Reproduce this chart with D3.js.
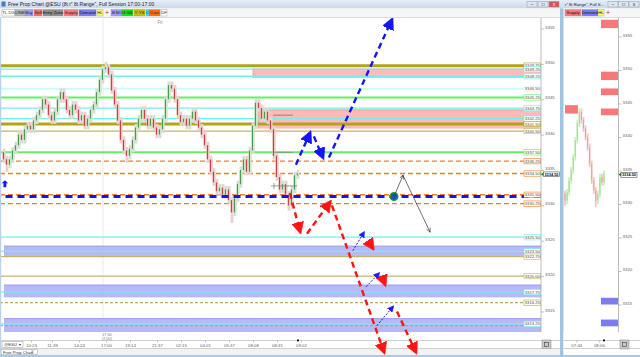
<!DOCTYPE html>
<html>
<head>
<meta charset="utf-8">
<script src="https://cdnjs.cloudflare.com/ajax/libs/d3/7.8.5/d3.min.js"></script>
<style>
  body { margin: 0; background: #fff; overflow: hidden; }
  svg { display: block; font-family: "Liberation Sans", Arial, sans-serif; }
</style>
</head>
<body>
<div id="chart"></div>
<script>
// ---- data ----
// 8 tick range bars: [open, high, low, close]
const bars = [
  [3337.5,3338,3336,3336.5],[3336.5,3337,3334.75,3335.75],[3335.75,3337,3335.25,3336.5],[3336.5,3338.25,3336,3337.75],
  [3337.75,3339,3337.25,3338.5],[3338.5,3340.5,3338,3340],[3340,3340.5,3338.75,3339.25],[3339.25,3341.25,3338.75,3340.75],
  [3340.75,3341.75,3340.25,3341.25],[3341.25,3341.75,3340.25,3340.75],[3340.75,3342.5,3340.25,3342],[3342,3343.25,3341.5,3342.75],
  [3342.75,3344,3342.25,3343.5],[3343.5,3345.5,3343,3345],[3345,3345.5,3343.75,3344.25],[3344.25,3344.75,3342.25,3342.75],
  [3342.75,3343.25,3341.5,3342],[3342,3343.75,3341.5,3343.25],[3343.25,3345.5,3342.75,3345],[3345,3346.5,3344.5,3346],
  [3346,3346.5,3344.5,3345],[3345,3345.5,3343,3343.5],[3343.5,3344,3342.25,3342.75],[3342.75,3344.75,3342.25,3344.25],
  [3344.25,3344.75,3343,3343.5],[3343.5,3344,3341.5,3342],[3342,3343.25,3341.5,3342.75],[3342.75,3343.25,3340.75,3341.25],
  [3341.25,3342.75,3340.75,3342.25],[3342.25,3344,3341.75,3343.5],[3343.5,3344.75,3343,3344.25],[3344.25,3346.5,3343.75,3346],
  [3346,3348.25,3345.5,3347.75],[3347.75,3349.75,3347.25,3349.25],[3349.25,3350.25,3348.75,3349.5],[3349.5,3350,3348,3348.5],
  [3348.5,3349,3345.75,3346.25],[3346.25,3346.75,3343.75,3344.25],[3344.25,3344.75,3341.5,3342],[3342,3342.5,3338.75,3339.25],
  [3339.25,3339.75,3337.25,3337.75],[3337.75,3338.25,3336,3337],[3337,3338.5,3336.5,3338],[3338,3339.75,3337.5,3339.25],
  [3339.25,3341.5,3338.75,3341],[3341,3342.75,3340.5,3342.25],[3342.25,3344,3341.75,3343.5],[3343.5,3344,3341.75,3342.25],
  [3342.25,3342.75,3340.75,3341.25],[3341.25,3342.75,3340.75,3342.25],[3342.25,3342.75,3340.5,3341],[3341,3341.5,3339.5,3340],
  [3340,3341.25,3339.5,3340.75],[3340.75,3342.75,3340.25,3342.25],[3342.25,3345.5,3341.75,3345],[3345,3347.5,3344.5,3347],
  [3347,3347.5,3346,3346.5],[3346.5,3347,3344.5,3345],[3345,3345.5,3342.25,3342.75],[3342.75,3343.25,3341.25,3341.75],
  [3341.75,3342.75,3341.25,3342.25],[3342.25,3342.75,3340.75,3341.25],[3341.25,3342.75,3340.75,3342.25],[3342.25,3343.75,3341.75,3343.25],
  [3343.25,3343.75,3341.5,3342],[3342,3342.5,3340.5,3341],[3341,3341.5,3339.5,3340],[3340,3340.5,3338,3338.5],
  [3338.5,3339,3336,3336.5],[3336.5,3337,3334.25,3334.75],[3334.75,3335.25,3332.75,3333.25],[3333.25,3333.75,3331.5,3332],
  [3332,3333,3331.5,3332.5],[3332.5,3333,3331,3331.5],[3331.5,3332.75,3331,3332.25],[3332.25,3332.75,3330.25,3330.75],
  [3330.75,3331.25,3327.5,3329],[3329,3331.5,3328.5,3331],[3331,3333.5,3330.5,3333],[3333,3335.5,3332.5,3335],
  [3335,3337,3334.5,3336.5],[3336.5,3337,3334.25,3334.75],[3334.75,3338.25,3334.25,3337.75],[3337.75,3341.75,3337.25,3341.25],
  [3341.25,3345,3340.75,3344.5],[3344.5,3345,3343.25,3343.75],[3343.75,3344.25,3341.75,3342.25],[3342.25,3343.75,3341.75,3343.25],
  [3343.25,3343.75,3341.5,3342],[3342,3342.5,3340.25,3340.75],[3340.75,3341.25,3336.5,3337],[3337,3337.5,3333.5,3334],
  [3334,3334.5,3331.75,3332.25],[3332.25,3333.5,3331.75,3333],[3333,3333.5,3331,3331.5],[3331.5,3332,3329.25,3330],
  [3330,3332.75,3329.5,3332.25],[3332.25,3334.75,3331.75,3334.25],[3334.25,3335,3333.75,3334.5]
];
const lastPrice = 3334.50;

const timeIdx = [9, 16, 25, 34, 42, 51, 59, 67, 75, 83, 91, 99];
const timeLabels = ["10:23","11:39","14:24","17:00","19:14","21:37","02:15","04:01","05:37","08:08","08:31","09:02"];
const sessionIdx = 33;

const priceTicks = [3355, 3350, 3345, 3340, 3335, 3330, 3325, 3320, 3315];

// horizontal levels drawn on the chart
const levelPrice  = [3349.75,3349.25,3348.25,3346.50,3345.25,3343.75,3342.25,3341.50,3340.50,3337.50,3336.25,3334.50,3331.50,3330.25,3325.50,3323.50,3322.75,3320.00,3317.75,3316.25,3313.25,3313.00];
const levelKind   = ["olive","cyan","cyan","paleCyan","green","cyan","cyan","olive","khaki","green","orange","orange","orange","orange","cyan","cyan","khaki","khaki","cyan","khakiDash","cyan","khakiDash"];
const levelTagged = [true,true,true,true,true,true,true,true,true,true,true,true,true,true,true,true,true,true,true,true,true,false];

// supply / demand zones (bar index where each begins)
const zoneTop    = [3349.25, 3343.5, 3324.25, 3318.75, 3314.0];
const zoneBottom = [3348.0, 3340.85, 3322.75, 3317.0, 3311.75];
const zoneStart  = [83, 84.7, 0, 0, 0];
const zoneKind   = ["supply", "supply", "demand", "demand", "demand"];

const entryPrice = 3331.25;

// hand drawn arrows: [barFrom, priceFrom, barTo, priceTo]
const blueArrows  = [[97.3,3335.75,102,3340.25],[103.3,3339.75,106.3,3336.75],[108.3,3336.75,129.3,3356.25]];
const redArrows   = [[95.3,3331.75,98.7,3326.25],[101,3326.0,108.7,3330.5],[109.3,3330.0,126.7,3309.25],
                     [121.3,3325.0,123,3323.9],[126,3319.9,127,3318.8],[131,3315.0,137.3,3309.25]];
const dotArrows   = [[116.3,3323.6,120,3326.2],[120.7,3318.5,125,3320.4],[124.3,3313.0,129.7,3315.7]];
const blackArrows = [[130,3331.25,133,3334.25],[133,3334.25,142,3326.25]];
const entryDot    = [130, 3331.25];

// little grey markers near the last bars
const markPrice = [3342.75, 3337.5, 3332.75];
const markFrom  = [89.7, 89.7, 91];
const markTo    = [96.3, 96.3, 97.7];

// second (small) chart on the right
const miniBars = [
  [3331.5,3332,3329.75,3330.5],[3330.5,3332.25,3330,3331.75],[3331.75,3334,3331.25,3333.5],[3333.5,3335.5,3333,3335],
  [3335,3337.5,3334.5,3337],[3337,3340,3336.5,3339.5],[3339.5,3342.5,3339,3342],[3342,3344.25,3341.5,3343.75],
  [3343.75,3344.25,3342,3342.5],[3342.5,3343,3340.75,3341.25],[3341.25,3341.75,3339.5,3340],[3340,3340.5,3338,3338.5],
  [3338.5,3339,3335.5,3336],[3336,3336.5,3333,3333.5],[3333.5,3334,3331.5,3332],[3332,3332.5,3329.5,3330.5],
  [3330.5,3332,3330,3331.5],[3331.5,3334.5,3331,3334],[3334,3334.5,3332.75,3333.25],[3333.25,3335,3332.75,3334.5]
];
const miniZoneTop    = [3357.5, 3349.75, 3347.25, 3344.25, 3344.75, 3316.0, 3312.75];
const miniZoneBottom = [3356.25, 3348.5, 3346.25, 3343.25, 3343.5, 3315.0, 3311.75];
const miniZoneFrom   = [17.5, 17.5, 17.5, 17.5, 0, 17.5, 17.5];
const miniZoneTo     = [26, 26, 26, 26, 6.3, 26, 26];
const miniZoneKind   = ["supply","supply","supply","supply","supply","demand","demand"];
const miniTimeIdx    = [5.5, 16.5];
const miniTimeLabels = ["07:44", "08:06"];

// ---- styles ----
const levelStyle = {
  olive:     { color: "#b3a21a", w: 3,   dash: null },
  cyan:      { color: "#6ff0f0", w: 1.3, dash: null },
  paleCyan:  { color: "#cdfbfb", w: 2,   dash: null },
  green:     { color: "#62f062", w: 2,   dash: null },
  khaki:     { color: "#c3b567", w: 1.3, dash: null },
  khakiDash: { color: "#b9aa5a", w: 1.2, dash: "3,2" },
  orange:    { color: "#ff7a2a", w: 1.4, dash: "5,3" }
};
const zoneStyle = {
  supply: { fill: "#ffb4b4", edge: "#f08a8a" },
  demand: { fill: "#aeb1f4", edge: "#8c90ee" }
};
const toolbar = [
  ["TL.DG", 2, 13, "#ffffff", "#333"], ["LINE", 15, 10, "#b4b4b4", "#222"], ["Buy", 25, 8, "#9a9af8", "#222"],
  ["Sell", 34, 8, "#f86a6a", "#222"], ["Entry Zone", 43, 20, "#8e8e8e", "#111"], ["Supply", 64, 14, "#f87a7a", "#222"],
  ["Demand", 79, 17, "#7a7af2", "#111"], ["HL", 97, 6, "#ffff6a", "#222"], ["B", 111, 5, "#9a9af8", "#222"],
  ["BO", 116, 6, "#9a9af8", "#222"], ["G", 122, 4, "#10dd10", "#222"], ["GS", 126, 7, "#10dd10", "#222"],
  ["Y", 134, 4, "#c8c000", "#222"], ["YS", 138, 7, "#c8c000", "#222"], ["C", 146, 3, "#20f0f0", "#222"],
  ["Cust", 149, 11, "#ff6a10", "#222"], ["DF", 161, 6, "#ffffff", "#333"]
];

// ---- svg ----
const W = 640, H = 357;
const svg = d3.select("#chart").append("svg").attr("width", W).attr("height", H);

const defs = svg.append("defs");
function marker(id, color, size, open) {
  const m = defs.append("marker")
    .attr("id", id).attr("viewBox", "0 0 10 10")
    .attr("refX", 8).attr("refY", 5)
    .attr("markerUnits", "userSpaceOnUse")
    .attr("markerWidth", size).attr("markerHeight", size)
    .attr("orient", "auto");
  m.append("path")
    .attr("d", open ? "M0,1L9,5L0,9" : "M0,0L10,5L0,10z")
    .attr("fill", open ? "none" : color)
    .attr("stroke", color).attr("stroke-width", open ? 1.2 : 0.5);
}
marker("mBlue", "#1414ff", 12, false);
marker("mRed", "#ff1414", 12, false);
marker("mDot", "#1a1aff", 6.5, false);
marker("mBlack", "#333", 5, true);
defs.append("clipPath").attr("id", "plotClip")
  .append("rect").attr("x", 0).attr("y", 18).attr("width", 541).attr("height", 314);
defs.append("clipPath").attr("id", "arrowClip")
  .append("rect").attr("x", 0).attr("y", 18).attr("width", 541).attr("height", 339);
defs.append("clipPath").attr("id", "miniClip")
  .append("rect").attr("x", 564).attr("y", 18).attr("width", 54).attr("height", 314);
const grad = defs.append("linearGradient").attr("id", "titleGrad").attr("x1", 0).attr("x2", 0).attr("y1", 0).attr("y2", 1);
grad.append("stop").attr("offset", 0).attr("stop-color", "#e6eef8");
grad.append("stop").attr("offset", 1).attr("stop-color", "#c8d8ec");

// Scales
const x = d3.scaleLinear().domain([0, 179]).range([4, 541]);
const y = d3.scaleLinear().domain([3355, 3315]).range([28.5, 311.5]);
const xm = d3.scaleLinear().domain([0, 26]).range([565, 618.4]);
const ym = d3.scaleLinear().domain([3350, 3330]).range([70, 204]);

// window chrome
svg.append("rect").attr("x", 0).attr("y", 0).attr("width", W).attr("height", 8.5).attr("fill", "url(#titleGrad)");
svg.append("rect").attr("x", 1.5).attr("y", 1.5).attr("width", 4).attr("height", 5).attr("fill", "#4a78c0");
svg.append("text").attr("x", 8).attr("y", 6.3).style("font-size", "5px").style("fill", "#222")
  .text("Free Prop Chart @ESU (8t r\" 8t Range\", Full Session 17:00-17:00");
svg.append("text").attr("x", 565).attr("y", 6.2).style("font-size", "4.2px").style("fill", "#222")
  .text("r\" 8t Range\", Full S...");
[[527, "#dfe6ef", "‒"], [538, "#dfe6ef", "□"], [549, "#d9534f", "x"],
 [608, "#dfe6ef", "‒"], [618.5, "#dfe6ef", "□"], [629, "#dfe6ef", "x"]].forEach(b => {
  svg.append("rect").attr("x", b[0]).attr("y", 1.5).attr("width", 10).attr("height", 5.5)
    .attr("fill", b[1]).attr("stroke", "#8a9bb3").attr("stroke-width", 0.5);
  svg.append("text").attr("x", b[0] + 5).attr("y", 6).attr("text-anchor", "middle")
    .style("font-size", "5px").style("fill", b[1] === "#d9534f" ? "#fff" : "#333").text(b[2]);
});

// toolbar
svg.append("rect").attr("x", 0).attr("y", 8.5).attr("width", 560).attr("height", 9).attr("fill", "#f6f6f6");
svg.append("rect").attr("x", 563).attr("y", 8.5).attr("width", 77).attr("height", 9).attr("fill", "#f6f6f6");
svg.append("line").attr("x1", 0).attr("x2", W).attr("y1", 17.5).attr("y2", 17.5).attr("stroke", "#c8c8c8").attr("stroke-width", 0.6);
const tb = svg.append("g");
toolbar.forEach(t => {
  tb.append("rect").attr("x", t[1]).attr("y", 9.5).attr("width", t[2]).attr("height", 6.5)
    .attr("fill", t[3]).attr("stroke", "#9a9a9a").attr("stroke-width", 0.4);
  tb.append("text").attr("x", t[1] + t[2] / 2).attr("y", 14.4).attr("text-anchor", "middle")
    .style("font-size", "4.3px").style("fill", t[4]).text(t[0]);
});
tb.append("text").attr("x", 107).attr("y", 15).attr("text-anchor", "middle")
  .style("font-size", "7px").style("fill", "#e02020").text("+");
[["Supply", 565, 16, "#f87a7a"], ["Demand", 582, 16, "#7a7af2"], ["HL", 598, 6, "#ffff6a"]].forEach(t => {
  tb.append("rect").attr("x", t[1]).attr("y", 9.5).attr("width", t[2]).attr("height", 6.5)
    .attr("fill", t[3]).attr("stroke", "#9a9a9a").attr("stroke-width", 0.4);
  tb.append("text").attr("x", t[1] + t[2] / 2).attr("y", 14.4).attr("text-anchor", "middle")
    .style("font-size", "4.3px").style("fill", "#111").text(t[0]);
});
tb.append("text").attr("x", 608).attr("y", 15).attr("text-anchor", "middle")
  .style("font-size", "7px").style("fill", "#e02020").text("+");

// ---- main plot ----
const plot = svg.append("g").attr("clip-path", "url(#plotClip)");

// session separator
plot.append("line")
  .attr("x1", x(sessionIdx)).attr("x2", x(sessionIdx)).attr("y1", 18).attr("y2", 340)
  .attr("stroke", "#e4e4e4").attr("stroke-width", 0.8);
svg.append("text").attr("x", 160).attr("y", 24).attr("text-anchor", "middle")
  .style("font-size", "4.5px").style("fill", "#888").text("Fri");

// zones
zoneTop.forEach((t, i) => {
  const s = zoneStyle[zoneKind[i]];
  plot.append("rect")
    .attr("x", x(zoneStart[i])).attr("y", y(t))
    .attr("width", 541 - x(zoneStart[i])).attr("height", y(zoneBottom[i]) - y(t))
    .attr("fill", s.fill).attr("opacity", 0.9);
  plot.append("line")
    .attr("x1", x(zoneStart[i])).attr("x2", 541).attr("y1", y(t)).attr("y2", y(t))
    .attr("stroke", s.edge).attr("stroke-width", 0.8);
  if (zoneStart[i] > 0) {
    plot.append("line")
      .attr("x1", x(zoneStart[i])).attr("x2", x(zoneStart[i]))
      .attr("y1", y(t)).attr("y2", y(zoneBottom[i]))
      .attr("stroke", s.edge).attr("stroke-width", 0.8);
  }
});

// levels
levelPrice.forEach((p, i) => {
  const s = levelStyle[levelKind[i]];
  plot.append("line")
    .attr("x1", 0).attr("x2", 541).attr("y1", y(p)).attr("y2", y(p))
    .attr("stroke", s.color).attr("stroke-width", s.w)
    .attr("stroke-dasharray", s.dash);
});

// bars
const barG = plot.append("g");
bars.forEach((b, i) => {
  const up = b[3] >= b[0];
  const cx = x(i);
  barG.append("rect")
    .attr("x", cx - 1.4).attr("width", 2.8)
    .attr("y", y(b[1])).attr("height", y(b[2]) - y(b[1]))
    .attr("fill", up ? "#d6dcd6" : "#e6d2d2");
  barG.append("rect")
    .attr("x", cx - 1.4).attr("width", 2.8)
    .attr("y", y(Math.max(b[0], b[3]))).attr("height", Math.abs(y(b[0]) - y(b[3])))
    .attr("fill", up ? "#c9e6c9" : "#f4c0c0");
  barG.append("line")
    .attr("x1", cx - 0.6).attr("x2", cx - 0.6)
    .attr("y1", y(b[0])).attr("y2", y(b[3]))
    .attr("stroke", up ? "#2d8a2d" : "#b02a2a").attr("stroke-width", 0.9);
});

// grey markers
markPrice.forEach((p, i) => {
  plot.append("line")
    .attr("x1", x(markFrom[i])).attr("x2", x(markTo[i])).attr("y1", y(p)).attr("y2", y(p))
    .attr("stroke", i === 0 ? "#8a6a6a" : "#808080").attr("stroke-width", 0.8);
});
plot.append("path")
  .attr("d", `M${x(90) - 3},${y(markPrice[2])}h6M${x(90)},${y(markPrice[2]) - 3}v6`)
  .attr("stroke", "#777").attr("stroke-width", 0.7);

// entry line (thick blue dashes over the orange level)
plot.append("line")
  .attr("x1", x(0.5)).attr("x2", 541).attr("y1", y(entryPrice)).attr("y2", y(entryPrice))
  .attr("stroke", "#1414ff").attr("stroke-width", 3).attr("stroke-dasharray", "7,5");

// little blue up arrow at the start
const ua = { cx: x(0.3), cy: y(3333) };
plot.append("path")
  .attr("d", `M${ua.cx},${ua.cy - 4}l3.2,3.2h-1.8v3.8h-2.8v-3.8h-1.8z`)
  .attr("fill", "#1414ff");

plot.append("circle")
  .attr("cx", x(entryDot[0])).attr("cy", y(entryDot[1])).attr("r", 3.8)
  .attr("fill", "#1450d8").attr("stroke", "#1e9a1e").attr("stroke-width", 1.4);

// level tags next to the price axis
const tags = svg.append("g");
levelPrice.forEach((p, i) => {
  if (!levelTagged[i]) return;
  const s = levelStyle[levelKind[i]];
  tags.append("rect")
    .attr("x", 524).attr("y", y(p) - 2.7).attr("width", 16.5).attr("height", 5.4)
    .attr("fill", "#fffdf6").attr("stroke", s.color).attr("stroke-width", 0.6);
  tags.append("text")
    .attr("x", 532.3).attr("y", y(p) + 1.6).attr("text-anchor", "middle")
    .style("font-size", "4.2px").style("fill", "#555").text(p.toFixed(2));
});

// price axis
svg.append("line").attr("x1", 541).attr("x2", 541).attr("y1", 18).attr("y2", 340)
  .attr("stroke", "#a0a0a0").attr("stroke-width", 0.7);
const yAxis = svg.append("g")
  .attr("transform", "translate(541,0)")
  .call(d3.axisRight(y).tickValues(priceTicks).tickSize(3).tickFormat(d3.format("d")));
yAxis.select(".domain").remove();
yAxis.selectAll("line").attr("stroke", "#999").attr("stroke-width", 0.6);
yAxis.selectAll("text").attr("x", 4).attr("dy", "-0.1em").style("font-size", "4.4px").style("fill", "#666").style("font-family", "Liberation Sans, Arial");

// current price tag
svg.append("path").attr("d", `M541,${y(lastPrice) + 0.6}l2.5,-2v4z`).attr("fill", "#1a8a1a");
svg.append("rect").attr("x", 543.5).attr("y", y(lastPrice) - 1.6).attr("width", 16).attr("height", 4.6)
  .attr("fill", "#fff").attr("stroke", "#333").attr("stroke-width", 0.5);
svg.append("text").attr("x", 551.5).attr("y", y(lastPrice) + 2.1).attr("text-anchor", "middle")
  .style("font-size", "3.9px").style("font-weight", "bold").style("fill", "#111").text(lastPrice.toFixed(2));

// time axis
svg.append("rect").attr("x", 0).attr("y", 332).attr("width", 560).attr("height", 17).attr("fill", "#fff");
svg.append("text").attr("x", x(sessionIdx) + 4).attr("y", 336).attr("text-anchor", "middle")
  .style("font-size", "3.8px").style("fill", "#777").text("17:00");
svg.append("text").attr("x", x(sessionIdx) + 4).attr("y", 339.5).attr("text-anchor", "middle")
  .style("font-size", "3.8px").style("fill", "#777").text("(2:00)");
svg.append("line").attr("x1", 0).attr("x2", 560).attr("y1", 340.5).attr("y2", 340.5).attr("stroke", "#b0b0b0").attr("stroke-width", 0.6);
svg.append("line").attr("x1", 0).attr("x2", 560).attr("y1", 348.5).attr("y2", 348.5).attr("stroke", "#b0b0b0").attr("stroke-width", 0.6);
const xAxis = svg.append("g")
  .attr("transform", "translate(0,340.5)")
  .call(d3.axisBottom(x).tickValues(timeIdx).tickSize(2).tickFormat((d, i) => timeLabels[i]));
xAxis.select(".domain").remove();
xAxis.selectAll("line").attr("stroke", "#888").attr("stroke-width", 0.5);
xAxis.selectAll("text").attr("y", 3).attr("dy", "0.7em").style("font-size", "4.4px").style("fill", "#666").style("font-family", "Liberation Sans, Arial");
svg.append("rect").attr("x", x(98) - 1).attr("y", 339.5).attr("width", 2).attr("height", 1.8).attr("fill", "#111");

// symbol selector and buttons
svg.append("rect").attr("x", 2).attr("y", 341.5).attr("width", 21).attr("height", 6).attr("fill", "#fff").attr("stroke", "#999").attr("stroke-width", 0.5);
svg.append("text").attr("x", 4).attr("y", 346.2).style("font-size", "4.2px").style("fill", "#333").text("@ESU");
svg.append("text").attr("x", 20).attr("y", 346.4).attr("text-anchor", "middle").style("font-size", "4px").style("fill", "#333").text("▾");
svg.append("rect").attr("x", 542).attr("y", 340).attr("width", 9).attr("height", 9).attr("fill", "#c8c8c8").attr("stroke", "#888").attr("stroke-width", 0.5);
svg.append("rect").attr("x", 544.5).attr("y", 342.5).attr("width", 4).attr("height", 4).attr("fill", "none").attr("stroke", "#444").attr("stroke-width", 0.6);

// tab row
svg.append("rect").attr("x", 0).attr("y", 349).attr("width", 560).attr("height", 6).attr("fill", "#f2f2f2");
svg.append("rect").attr("x", 1).attr("y", 349.3).attr("width", 31).attr("height", 5.5).attr("fill", "#fff").attr("stroke", "#999").attr("stroke-width", 0.5);
svg.append("text").attr("x", 3).attr("y", 353.6).style("font-size", "4.2px").style("fill", "#333").text("Free Prop Chart");
svg.append("rect").attr("x", 33).attr("y", 349.8).attr("width", 4.5).attr("height", 4.5).attr("fill", "#fff").attr("stroke", "#999").attr("stroke-width", 0.5);
svg.append("rect").attr("x", 0).attr("y", 355).attr("width", W).attr("height", 2).attr("fill", "#a9c8e6");
svg.append("rect").attr("x", 0).attr("y", 17.5).attr("width", 1.2).attr("height", 338).attr("fill", "#b8d2ea");

// hand drawn arrows sit on top, they run past the plot into the time axis
const arrows = svg.append("g").attr("clip-path", "url(#arrowClip)");
function drawArrows(list, color, width, dash, mk) {
  list.forEach(a => {
    arrows.append("line")
      .attr("x1", x(a[0])).attr("y1", y(a[1]))
      .attr("x2", x(a[2])).attr("y2", y(a[3]))
      .attr("stroke", color).attr("stroke-width", width)
      .attr("stroke-dasharray", dash)
      .attr("marker-end", `url(#${mk})`);
  });
}
drawArrows(blueArrows, "#1414ff", 2.4, "6,4", "mBlue");
drawArrows(redArrows, "#ff1414", 2.4, "6,4", "mRed");
drawArrows(dotArrows, "#1a1aff", 1, "2,1.5", "mDot");
drawArrows(blackArrows, "#333", 0.7, null, "mBlack");

// separator between the two charts
svg.append("rect").attr("x", 560).attr("y", 8.5).attr("width", 3.5).attr("height", 348.5).attr("fill", "#9ec4e2");

// ---- right mini chart ----
const mini = svg.append("g").attr("clip-path", "url(#miniClip)");
miniZoneTop.forEach((t, i) => {
  mini.append("rect")
    .attr("x", xm(miniZoneFrom[i])).attr("y", ym(t))
    .attr("width", xm(miniZoneTo[i]) - xm(miniZoneFrom[i])).attr("height", ym(miniZoneBottom[i]) - ym(t))
    .attr("fill", miniZoneKind[i] === "supply" ? "#f77878" : "#7a7cf0");
});
miniBars.forEach((b, i) => {
  const up = b[3] >= b[0];
  mini.append("rect")
    .attr("x", xm(i) - 0.9).attr("width", 1.8)
    .attr("y", ym(b[1])).attr("height", ym(b[2]) - ym(b[1]))
    .attr("fill", up ? "#c8f2c0" : "#f6c6c6");
  mini.append("line")
    .attr("x1", xm(i)).attr("x2", xm(i)).attr("y1", ym(b[0])).attr("y2", ym(b[3]))
    .attr("stroke", up ? "#9ad27a" : "#e0a060").attr("stroke-width", 0.8);
});
svg.append("line").attr("x1", 618.5).attr("x2", 618.5).attr("y1", 18).attr("y2", 340)
  .attr("stroke", "#a0a0a0").attr("stroke-width", 0.7);
const yAxisM = svg.append("g")
  .attr("transform", "translate(618.5,0)")
  .call(d3.axisRight(ym).tickValues(priceTicks).tickSize(3).tickFormat(d3.format("d")));
yAxisM.select(".domain").remove();
yAxisM.selectAll("line").attr("stroke", "#999").attr("stroke-width", 0.6);
yAxisM.selectAll("text").attr("x", 4).attr("dy", "-0.1em").style("font-size", "4.4px").style("fill", "#666").style("font-family", "Liberation Sans, Arial");
svg.append("path").attr("d", `M618.5,${ym(lastPrice) + 0.6}l2.5,-2v4z`).attr("fill", "#1a8a1a");
svg.append("rect").attr("x", 621).attr("y", ym(lastPrice) - 1.2).attr("width", 16).attr("height", 4.6)
  .attr("fill", "#fff").attr("stroke", "#333").attr("stroke-width", 0.5);
svg.append("text").attr("x", 629).attr("y", ym(lastPrice) + 2.5).attr("text-anchor", "middle")
  .style("font-size", "3.9px").style("font-weight", "bold").style("fill", "#111").text(lastPrice.toFixed(2));

svg.append("rect").attr("x", 563.5).attr("y", 332).attr("width", 76.5).attr("height", 23).attr("fill", "#fff");
svg.append("line").attr("x1", 563.5).attr("x2", 640).attr("y1", 340.5).attr("y2", 340.5).attr("stroke", "#b0b0b0").attr("stroke-width", 0.6);
svg.append("line").attr("x1", 563.5).attr("x2", 640).attr("y1", 348.5).attr("y2", 348.5).attr("stroke", "#b0b0b0").attr("stroke-width", 0.6);
const xAxisM = svg.append("g")
  .attr("transform", "translate(0,340.5)")
  .call(d3.axisBottom(xm).tickValues(miniTimeIdx).tickSize(2).tickFormat((d, i) => miniTimeLabels[i]));
xAxisM.select(".domain").remove();
xAxisM.selectAll("line").attr("stroke", "#888").attr("stroke-width", 0.5);
xAxisM.selectAll("text").attr("y", 3).attr("dy", "0.7em").style("font-size", "4.4px").style("fill", "#666").style("font-family", "Liberation Sans, Arial");
svg.append("rect").attr("x", xm(19) - 1).attr("y", 339.5).attr("width", 2).attr("height", 1.8).attr("fill", "#111");
svg.append("rect").attr("x", 620).attr("y", 340).attr("width", 9).attr("height", 9).attr("fill", "#c8c8c8").attr("stroke", "#888").attr("stroke-width", 0.5);
svg.append("rect").attr("x", 622.5).attr("y", 342.5).attr("width", 4).attr("height", 4).attr("fill", "none").attr("stroke", "#444").attr("stroke-width", 0.6);
</script>
</body>
</html>
